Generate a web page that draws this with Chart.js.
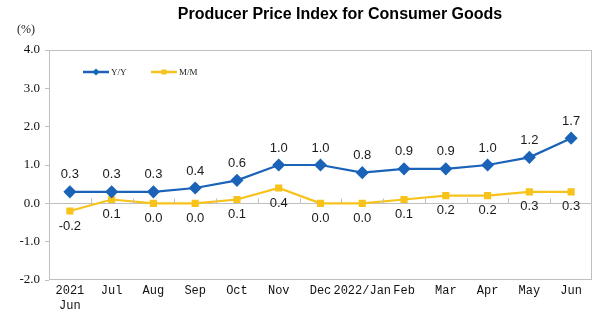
<!DOCTYPE html>
<html>
<head>
<meta charset="utf-8">
<script src="https://cdn.jsdelivr.net/npm/chart.js@4"></script>
<style>
  html, body { margin: 0; padding: 0; background: #fff; }
  #wrap { width: 608px; height: 334px; }
</style>
</head>
<body>
<div id="wrap"><canvas id="ppiChart" width="608" height="334"></canvas></div>
<script>
const months = [['2021', 'Jun'], 'Jul', 'Aug', 'Sep', 'Oct', 'Nov', 'Dec', '2022/Jan', 'Feb', 'Mar', 'Apr', 'May', 'Jun'];
const yoyValues = [0.3, 0.3, 0.3, 0.4, 0.6, 1.0, 1.0, 0.8, 0.9, 0.9, 1.0, 1.2, 1.7];
const momValues = [-0.2, 0.1, 0.0, 0.0, 0.1, 0.4, 0.0, 0.0, 0.1, 0.2, 0.2, 0.3, 0.3];
const seriesNames = ['Y/Y', 'M/M'];
const chartTitle = 'Producer Price Index for Consumer Goods';
const unitLabel = '(%)';

const blue = '#1a63b8';
const yellow = '#f7c21a';
const frameGray = '#bfbfbf';

// frame, category ticks on zero line, title, legend and value labels
const decorPlugin = {
    id: 'decor',
    afterDraw(chart) {
        const ctx = chart.ctx;
        const area = chart.chartArea;
        const xs = chart.scales.x;
        const ys = chart.scales.y;
        ctx.save();

        ctx.strokeStyle = frameGray;
        ctx.lineWidth = 1;
        ctx.strokeRect(area.left + 0.5, area.top + 0.5, area.right - area.left - 1, area.bottom - area.top - 1);

        const y0 = Math.round(ys.getPixelForValue(0)) + 0.5;
        ctx.beginPath();
        for (let i = 1; i < months.length; i++) {
            const bx = Math.round((xs.getPixelForValue(i - 1) + xs.getPixelForValue(i)) / 2) + 0.5;
            ctx.moveTo(bx, y0);
            ctx.lineTo(bx, y0 - 5);
        }
        ctx.stroke();

        ctx.fillStyle = '#000';
        ctx.font = 'bold 16px "Liberation Sans", Arial, sans-serif';
        ctx.textAlign = 'center';
        ctx.textBaseline = 'middle';
        ctx.fillText(chartTitle, 340, 15);

        ctx.font = '12px "Liberation Serif", serif';
        ctx.fillStyle = '#222';
        ctx.textAlign = 'left';
        ctx.fillText(unitLabel, 17, 30);

        // legend inside plot
        const legend = [
            { name: seriesNames[0], color: blue, x: 83, style: 'diamond' },
            { name: seriesNames[1], color: yellow, x: 151, style: 'square' }
        ];
        legend.forEach(item => {
            const ly = 72;
            ctx.strokeStyle = item.color;
            ctx.lineWidth = 2.5;
            ctx.beginPath();
            ctx.moveTo(item.x, ly);
            ctx.lineTo(item.x + 26, ly);
            ctx.stroke();
            ctx.fillStyle = item.color;
            const cx = item.x + 13;
            if (item.style === 'diamond') {
                ctx.beginPath();
                ctx.moveTo(cx, ly - 3.5);
                ctx.lineTo(cx + 3.5, ly);
                ctx.lineTo(cx, ly + 3.5);
                ctx.lineTo(cx - 3.5, ly);
                ctx.closePath();
                ctx.fill();
            } else {
                ctx.fillRect(cx - 2.5, ly - 2.5, 5, 5);
            }
            ctx.fillStyle = '#222';
            ctx.font = '9px "Liberation Serif", serif';
            ctx.textAlign = 'left';
            ctx.fillText(item.name, item.x + 28, ly + 1);
        });

        // value labels
        ctx.font = '13px "Liberation Sans", Arial, sans-serif';
        ctx.fillStyle = '#1a1a1a';
        ctx.textAlign = 'center';
        chart.getDatasetMeta(0).data.forEach((pt, i) => {
            ctx.fillText(yoyValues[i].toFixed(1), pt.x, pt.y - 17);
        });
        chart.getDatasetMeta(1).data.forEach((pt, i) => {
            ctx.fillText(momValues[i].toFixed(1), pt.x, pt.y + 15);
        });

        ctx.restore();
    }
};

new Chart(document.getElementById('ppiChart'), {
    type: 'line',
    data: {
        labels: months,
        datasets: [
            { label: seriesNames[0], data: yoyValues, borderColor: blue, backgroundColor: blue, borderWidth: 2.2, pointStyle: 'rectRot', pointRadius: 5, pointHoverRadius: 5, tension: 0 },
            { label: seriesNames[1], data: momValues, borderColor: yellow, backgroundColor: yellow, borderWidth: 2.2, pointStyle: 'rect', pointRadius: 3.5, pointHoverRadius: 3.5, tension: 0 }
        ]
    },
    options: {
        responsive: false,
        animation: false,
        layout: { padding: { top: 50, right: 16, left: 0, bottom: 0 } },
        plugins: { legend: { display: false }, title: { display: false }, tooltip: { enabled: false } },
        scales: {
            x: {
                offset: true,
                grid: { display: false, drawTicks: false },
                border: { display: false },
                ticks: { color: '#111', font: { family: '"Liberation Mono", monospace', size: 12 }, maxRotation: 0, autoSkip: false, padding: 4 },
                afterFit(scale) { scale.height = 54; }
            },
            y: {
                min: -2, max: 4,
                grid: {
                    color: ctx => ctx.tick && ctx.tick.value === 0 ? frameGray : 'rgba(0,0,0,0)',
                    tickColor: frameGray,
                    tickLength: 4
                },
                border: { display: false },
                ticks: { stepSize: 1, padding: 5, color: '#111', font: { family: '"Liberation Serif", serif', size: 13 }, callback: v => Number(v).toFixed(1) },
                afterFit(scale) { scale.width = 49; }
            }
        }
    },
    plugins: [decorPlugin]
});
</script>
</body>
</html>
